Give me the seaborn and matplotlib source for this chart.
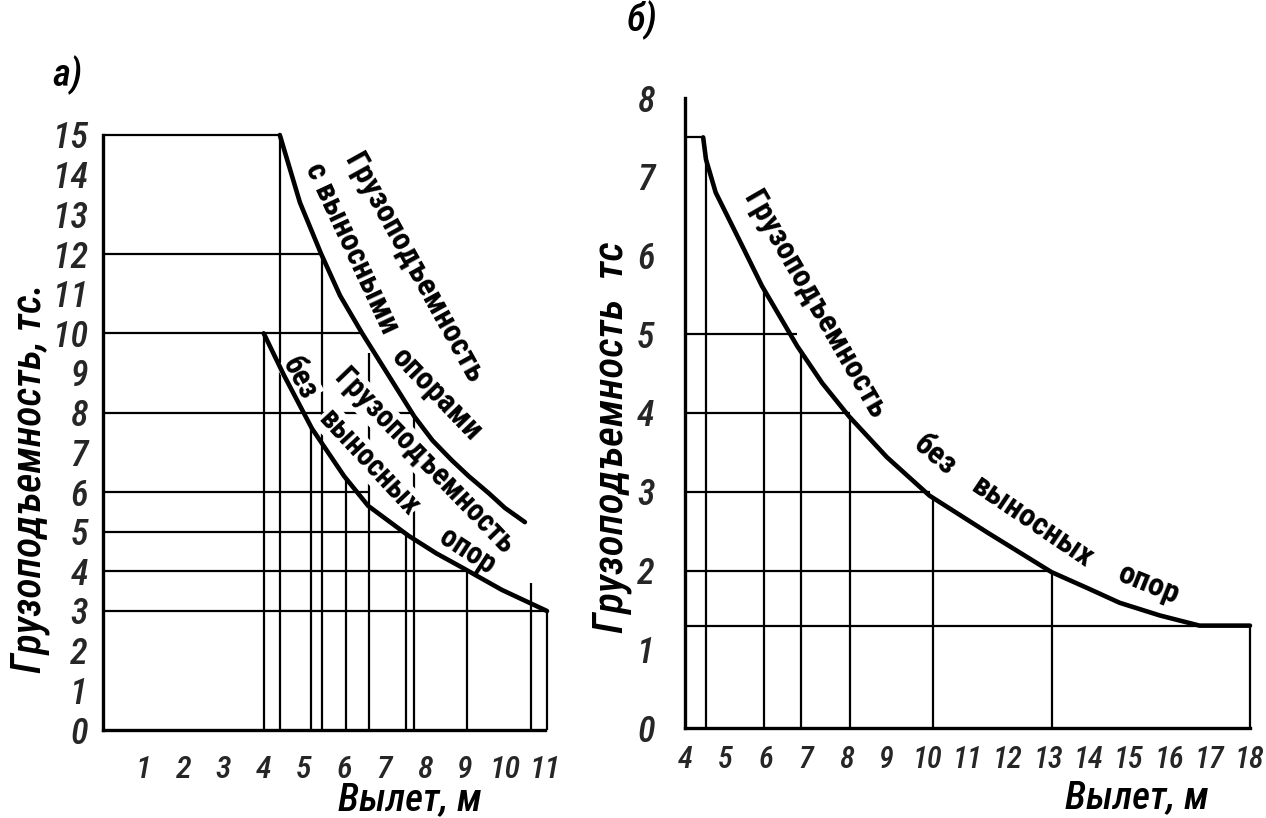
import matplotlib
matplotlib.use("Agg")
import matplotlib.pyplot as plt
from matplotlib import font_manager as fm
import seaborn as sns
import pandas as pd

# ---------------- data ----------------
# Panel a) : crane capacity (t) vs outreach (m)
a_with_x = [4.4, 4.9, 5.43, 5.9, 6.45, 7.1, 7.75, 8.2, 8.68, 9.1, 9.6, 10.0, 10.5]
a_with_y = [15.0, 13.3, 12.0, 10.95, 10.0, 8.95, 7.9, 7.3, 6.8, 6.4, 5.97, 5.6, 5.24]
a_wo_x = [4.0, 4.5, 5.2, 5.6, 6.0, 6.6, 7.6, 8.3, 8.93, 9.93, 11.05]
a_wo_y = [10.0, 8.95, 7.6, 7.0, 6.4, 5.65, 4.9, 4.45, 4.1, 3.53, 3.0]
a_vline_x = [4.0, 4.4, 5.18, 5.45, 6.05, 6.63, 7.55, 7.75, 9.05, 10.65, 11.05]
a_vline_top = [10.0, 15.0, 7.65, 12.0, 6.35, 9.5, 5.0, 7.9, 4.05, 3.7, 3.0]
a_hline_y = [15, 12, 10, 8, 6, 5, 4, 3]
a_hline_end = [4.4, 5.45, 6.45, 7.75, 6.63, 7.55, 9.03, 11.05]
a_xticks = list(range(1, 12))
a_yticks = list(range(0, 16))

# Panel б)
b_x = [4.45, 4.52, 4.76, 5.1, 5.42, 5.91, 6.78, 7.4, 8.06, 9.0, 10.06, 11.5,
       13.08, 14.0, 14.77, 15.76, 16.75, 18.0]
b_y = [7.5, 7.22, 6.8, 6.45, 6.12, 5.61, 4.85, 4.38, 3.96, 3.44, 2.95, 2.48,
       1.98, 1.77, 1.59, 1.43, 1.3, 1.3]
b_vline_x = [4.52, 5.95, 6.87, 8.1, 10.15, 13.1, 18.0]
b_vline_top = [7.22, 5.56, 4.78, 3.93, 2.9, 1.96, 1.3]
b_hline_y = [7.5, 5, 4, 3, 2, 1.3]
b_hline_end = [4.45, 6.78, 8.08, 10.06, 13.08, 18.0]
b_xticks = list(range(4, 19))
b_yticks = list(range(0, 9))

ylabel_a = "Грузоподъемность, тс."
ylabel_b = "Грузоподъемность  тс"
xlabel = "Вылет, м"

# ---------------- style ----------------
sns.set_theme(style="white")

_names = {f.name for f in fm.fontManager.ttflist}
_dejavu_cond = any(f.name == "DejaVu Sans" and f.stretch == "condensed"
                   for f in fm.fontManager.ttflist)
cond_family = None
for _n in ["Liberation Sans Narrow", "Roboto Condensed", "Open Sans Condensed"]:
    if _n in _names:
        cond_family = _n
        break
if cond_family is not None:
    narrow = dict(family=[cond_family, "DejaVu Sans"])
    shrink = 1.0
elif _dejavu_cond:
    narrow = dict(family=["DejaVu Sans", "Liberation Sans"], stretch="condensed")
    shrink = 0.95
else:
    narrow = dict(family=["Liberation Sans", "DejaVu Sans"])
    shrink = 0.86
plt.rcParams["font.family"] = ["Liberation Sans", "DejaVu Sans"]

W, H = 1266, 818
fig = plt.figure(figsize=(W / 100, H / 100), dpi=100)
fig.patch.set_facecolor("white")


def fpos(px, py):
    return px / W, 1 - py / H


ax1 = fig.add_axes([103 / W, 88 / H, (545 - 103) / W, (683 - 88) / H])
ax2 = fig.add_axes([685 / W, 90 / H, (1250 - 685) / W, (728 - 98) / H])

ink = "black"
tick_font = dict(narrow, style="italic", weight=500)
lab_font = dict(narrow, style="italic", weight=500)
curve_font = dict(narrow, weight=600)

# ---- panel a ----
dfa1 = pd.DataFrame({"x": a_with_x, "y": a_with_y})
dfa2 = pd.DataFrame({"x": a_wo_x, "y": a_wo_y})
sns.lineplot(data=dfa1, x="x", y="y", ax=ax1, color=ink, lw=3.3, sort=False,
             clip_on=False, zorder=5)
sns.lineplot(data=dfa2, x="x", y="y", ax=ax1, color=ink, lw=3.3, sort=False,
             clip_on=False, zorder=5)
ax1.vlines(a_vline_x, 0, a_vline_top, color=ink, lw=1.6, zorder=2, clip_on=False)
ax1.hlines(a_hline_y, 0, a_hline_end, color=ink, lw=1.6, zorder=2, clip_on=False)
ax1.set_xlim(0, 11)
ax1.set_ylim(0, 15)
ax1.set_xticks(a_xticks)
ax1.set_xticklabels([str(t) for t in a_xticks], fontsize=23 * shrink, **tick_font)
ax1.set_yticks(a_yticks)
ax1.set_yticklabels([str(t) for t in a_yticks], fontsize=26 * shrink, **tick_font)
ax1.tick_params(axis="x", direction="inout", length=8, width=1.5, pad=14)
ax1.tick_params(axis="y", direction="out", length=7, width=1.5, pad=4)

# ---- panel б ----
dfb = pd.DataFrame({"x": b_x, "y": b_y})
sns.lineplot(data=dfb, x="x", y="y", ax=ax2, color=ink, lw=3.3, sort=False,
             clip_on=False, zorder=5)
ax2.vlines(b_vline_x, 0, b_vline_top, color=ink, lw=1.6, zorder=2, clip_on=False)
ax2.hlines(b_hline_y, 4, b_hline_end, color=ink, lw=1.6, zorder=2, clip_on=False)
ax2.set_xlim(4, 18)
ax2.set_ylim(0, 8)
ax2.set_xticks(b_xticks)
ax2.set_xticklabels([str(t) for t in b_xticks], fontsize=22 * shrink, **tick_font)
ax2.set_yticks(b_yticks)
ax2.set_yticklabels([str(t) for t in b_yticks], fontsize=26 * shrink, **tick_font)
ax2.tick_params(axis="x", direction="inout", length=8, width=1.5, pad=8)
ax2.tick_params(axis="y", direction="out", length=7, width=1.5, pad=15)

for ax in (ax1, ax2):
    sns.despine(ax=ax)
    ax.set_xlabel("")
    ax.set_ylabel("")
    ax.patch.set_alpha(0)
    for s in ("left", "bottom"):
        ax.spines[s].set_linewidth(2.4)
        ax.spines[s].set_color(ink)


def lab(ax, px, py, s, rot, size, font, box=False):
    x, y = fpos(px, py)
    kw = {}
    if box:
        kw["bbox"] = dict(facecolor="white", edgecolor="none", pad=0.5)
    ax.text(x, y, s, transform=fig.transFigure, rotation=rot,
            rotation_mode="anchor", ha="center", va="center",
            fontsize=size * shrink, color=ink, zorder=3, clip_on=False,
            **font, **kw)


# axis labels and panel tags
lab(ax1, 410, 800, xlabel, 0, 28, lab_font)
lab(ax2, 1137, 798, xlabel, 0, 28, lab_font)
lab(ax1, 30, 478, ylabel_a, 90, 30, lab_font)
lab(ax2, 612, 437, ylabel_b, 90, 31, lab_font)
lab(ax1, 68, 75, "а)", 0, 28, lab_font)
lab(ax2, 642, 20, "б)", 0, 28, lab_font)

# curve captions – panel a
lab(ax1, 414, 268, "Грузоподъемность", -61, 23, curve_font)
lab(ax1, 352, 248, "с выносными", -65, 23, curve_font)
lab(ax1, 437, 394, "опорами", -46, 23, curve_font)
lab(ax1, 424, 461, "Грузоподъемность", -46, 22, curve_font, box=True)
lab(ax1, 300, 378, "без", -62, 22, curve_font, box=True)
lab(ax1, 369, 462, "выносных", -47, 22, curve_font, box=True)
lab(ax1, 468, 551, "опор", -33, 22, curve_font, box=True)

# curve captions – panel б
lab(ax2, 815, 304, "Грузоподъемность", -60, 23, curve_font)
lab(ax2, 935, 455, "без", -40, 23, curve_font)
lab(ax2, 1032, 522, "выносных", -34, 23, curve_font)
lab(ax2, 1149, 584, "опор", -22, 23, curve_font)

fig.savefig("out.png", dpi=100, facecolor="white")
